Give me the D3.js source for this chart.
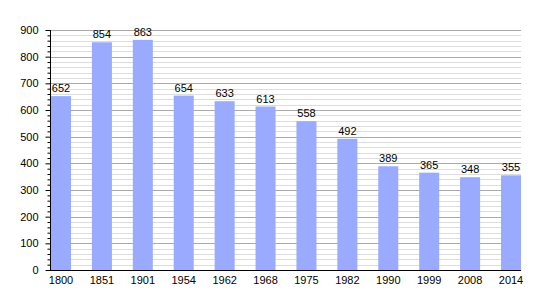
<!DOCTYPE html>
<html>
<head>
<meta charset="utf-8">
<script src="https://cdn.jsdelivr.net/npm/d3@7"></script>
<style>
  body { margin: 0; background: #fff; }
  text { font-family: "Liberation Sans", Arial, sans-serif; }
</style>
</head>
<body>
<div class="chart"></div>
<script>
var years = ["1800", "1851", "1901", "1954", "1962", "1968", "1975", "1982", "1990", "1999", "2008", "2014"];
var population = [652, 854, 863, 654, 633, 613, 558, 492, 389, 365, 348, 355];
var majorTicks = [0, 100, 200, 300, 400, 500, 600, 700, 800, 900];

var svgWidth = 550;
var svgHeight = 300;

var margin = { top: 30, right: 29, bottom: 30, left: 50 };
var width = svgWidth - margin.left - margin.right;
var height = svgHeight - margin.top - margin.bottom;

var svg = d3.select(".chart")
  .append("svg")
  .attr("width", svgWidth)
  .attr("height", svgHeight);

var chartGroup = svg.append("g")
  .attr("transform", `translate(${margin.left}, ${margin.top})`);

var xScale = d3.scaleBand()
  .domain(years)
  .range([1, width])
  .paddingInner(0.511)
  .paddingOuter(0);

var yScale = d3.scaleLinear()
  .domain([0, 900])
  .range([height, 0]);

// minor grid every 20
var minorTicks = d3.range(0, 901, 20).filter(d => d % 100 !== 0);
chartGroup.append("g")
  .selectAll("line")
  .data(minorTicks)
  .enter()
  .append("line")
  .attr("x1", 0)
  .attr("x2", width)
  .attr("y1", d => Math.round(yScale(d)) + 0.5)
  .attr("y2", d => Math.round(yScale(d)) + 0.5)
  .attr("stroke", "#dddddd");

// major grid every 100
chartGroup.append("g")
  .selectAll("line")
  .data(majorTicks.slice(1))
  .enter()
  .append("line")
  .attr("x1", 0)
  .attr("x2", width)
  .attr("y1", d => Math.round(yScale(d)) + 0.5)
  .attr("y2", d => Math.round(yScale(d)) + 0.5)
  .attr("stroke", "#aaaaaa");

// bars
chartGroup.selectAll("rect")
  .data(population)
  .enter()
  .append("rect")
  .attr("x", (d, i) => xScale(years[i]))
  .attr("y", d => yScale(d))
  .attr("width", xScale.bandwidth())
  .attr("height", d => height - yScale(d))
  .attr("fill", "#99aaff");

// value labels
chartGroup.selectAll(".label")
  .data(population)
  .enter()
  .append("text")
  .attr("class", "label")
  .attr("x", (d, i) => xScale(years[i]) + xScale.bandwidth() / 2)
  .attr("y", d => yScale(d) - 4)
  .attr("text-anchor", "middle")
  .attr("font-size", "11px")
  .attr("fill", "#000")
  .text(d => d);

// y axis with minor ticks
var leftAxis = d3.axisLeft(yScale)
  .tickValues(majorTicks)
  .tickSize(5)
  .tickPadding(7);
var yAxis = chartGroup.append("g")
  .attr("transform", "translate(0.5, 0)")
  .call(leftAxis);
yAxis.selectAll("text").attr("font-size", "11px").attr("font-family", "Liberation Sans, Arial, sans-serif");
yAxis.select(".domain").remove();

chartGroup.append("g")
  .attr("transform", "translate(0.5, 0)")
  .call(d3.axisLeft(yScale).tickValues(minorTicks).tickSize(3).tickFormat(""))
  .select(".domain").remove();

chartGroup.append("line")
  .attr("x1", 0.5)
  .attr("x2", 0.5)
  .attr("y1", 0)
  .attr("y2", height)
  .attr("stroke", "#000");

// x axis
var bottomAxis = d3.axisBottom(xScale).tickSize(0).tickPadding(6);
var xAxis = chartGroup.append("g")
  .attr("transform", `translate(0, ${height})`)
  .call(bottomAxis);
xAxis.selectAll("text").attr("font-size", "11px").attr("font-family", "Liberation Sans, Arial, sans-serif");
xAxis.select(".domain").remove();

chartGroup.append("line")
  .attr("x1", 0)
  .attr("x2", width)
  .attr("y1", height + 0.5)
  .attr("y2", height + 0.5)
  .attr("stroke", "#000");
</script>
</body>
</html>
